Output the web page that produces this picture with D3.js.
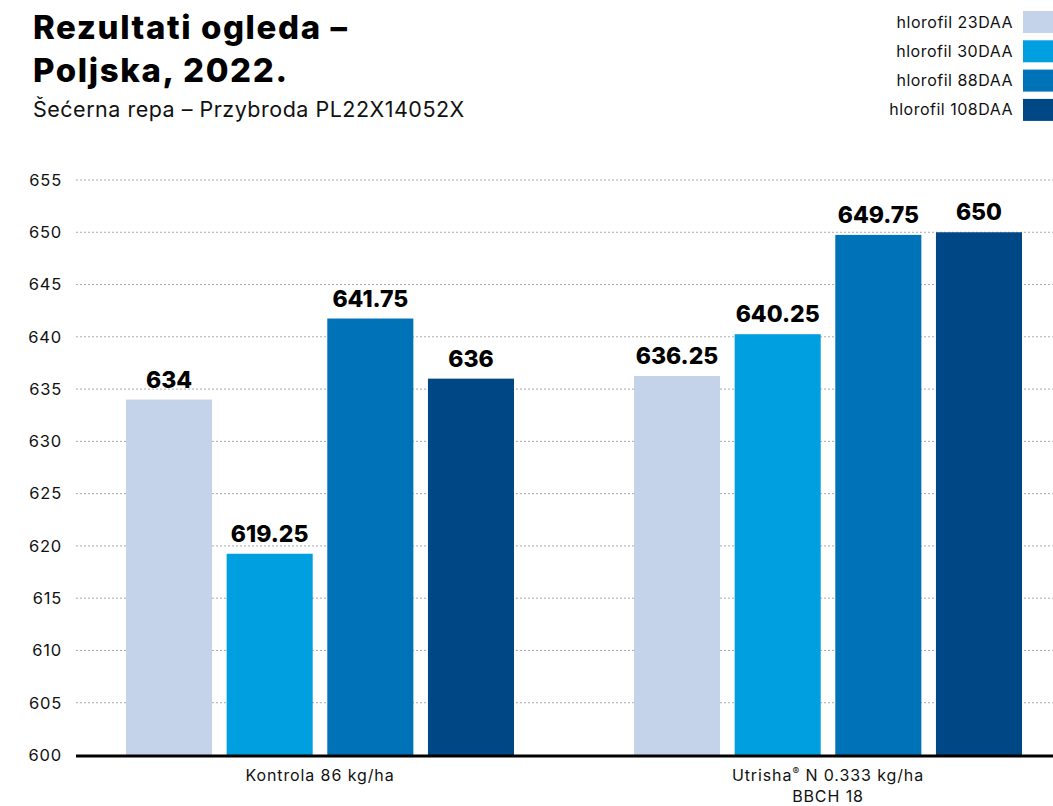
<!DOCTYPE html>
<html><head><meta charset="utf-8">
<script src="https://cdn.jsdelivr.net/npm/d3@7"></script>
<style>body{margin:0;background:#fff;} svg{display:block;font-family:Inter, "Noto Sans", sans-serif;}</style>
</head><body>
<svg id="chart" width="1053" height="806"></svg>
<script>
const categories = ["Kontrola 86 kg/ha", "Utrisha® N 0.333 kg/ha\nBBCH 18"];
const seriesNames = ["hlorofil 23DAA", "hlorofil 30DAA", "hlorofil 88DAA", "hlorofil 108DAA"];
const seriesColors = ["#c4d3ea", "#009fe0", "#0072b8", "#004785"];
const valuesKontrola = [634, 619.25, 641.75, 636];
const valuesUtrisha = [636.25, 640.25, 649.75, 650];
const valueLabels = [["634","619.25","641.75","636"],["636.25","640.25","649.75","650"]];
const yTicks = [600,605,610,615,620,625,630,635,640,645,650,655];

const data = [valuesKontrola, valuesUtrisha];
const svg = d3.select("#chart");

const y = d3.scaleLinear().domain([600, 655]).range([755, 180]);
const x0 = d3.scaleBand().domain(categories).range([66, 1082]);
const x1 = d3.scaleBand().domain(seriesNames).range([60, 448]).paddingInner(0.145).paddingOuter(0);

// grid
svg.append("g").selectAll("line").data(yTicks.filter(t => t > 600)).join("line")
  .attr("x1", 76).attr("x2", 1053)
  .attr("y1", d => y(d)).attr("y2", d => y(d))
  .attr("stroke", "#aaa").attr("stroke-width", 1).attr("stroke-dasharray", "2,2");

// y ticks
svg.append("g").selectAll("text").data(yTicks).join("text")
  .attr("x", 62).attr("y", d => y(d)).attr("dy", "0.35em")
  .attr("text-anchor", "end").attr("font-size", 16.5).attr("letter-spacing", 0.8).attr("fill", "#111")
  .text(d => d);

// bars
const groups = svg.append("g").selectAll("g").data(data).join("g")
  .attr("transform", (d, i) => `translate(${x0(categories[i])},0)`);
groups.selectAll("rect").data(d => d).join("rect")
  .attr("x", (d, j) => x1(seriesNames[j]))
  .attr("width", x1.bandwidth())
  .attr("y", d => y(d)).attr("height", d => y(600) - y(d))
  .attr("fill", (d, j) => seriesColors[j]);
groups.selectAll("text").data((d, i) => d.map((v, j) => ({v, j, i}))).join("text")
  .attr("x", d => x1(seriesNames[d.j]) + x1.bandwidth() / 2)
  .attr("y", d => y(d.v) - 12)
  .attr("text-anchor", "middle").attr("font-size", 23).attr("font-weight", 800).attr("fill", "#000")
  .text(d => valueLabels[d.i][d.j]);

// baseline
svg.append("line").attr("x1", 76).attr("x2", 1053).attr("y1", y(600) + 1).attr("y2", y(600) + 1)
  .attr("stroke", "#000").attr("stroke-width", 3);

// category labels
categories.forEach((c, i) => {
  const cx = x0(c) + 60 + 388 / 2;
  const t = svg.append("text").attr("x", cx).attr("y", 781).attr("text-anchor", "middle")
    .attr("font-size", 16).attr("letter-spacing", 0.9).attr("fill", "#111");
  c.split("\n").forEach((line, k) => {
    const parts = line.split("®");
    const ts = t.append("tspan").attr("x", cx).attr("dy", k === 0 ? 0 : 21);
    ts.text(parts[0]);
    if (parts.length > 1) {
      t.append("tspan").attr("font-size", 10).attr("dy", -6).text("®");
      t.append("tspan").attr("dy", 6).text(parts[1]);
    }
  });
});

// title
svg.append("text").attr("x", 33).attr("y", 39).attr("font-size", 33).attr("font-weight", 800).attr("letter-spacing", 1.6).attr("fill", "#000").text("Rezultati ogleda –");
svg.append("text").attr("x", 33).attr("y", 82).attr("font-size", 33).attr("font-weight", 800).attr("letter-spacing", 1.6).attr("fill", "#000").text("Poljska, 2022.");
svg.append("text").attr("x", 33).attr("y", 117).attr("font-size", 21.5).attr("letter-spacing", 0.5).attr("fill", "#111").text("Šećerna repa – Przybroda PL22X14052X");

// legend
const leg = svg.append("g").selectAll("g").data(seriesNames).join("g")
  .attr("transform", (d, i) => `translate(0,${11 + i * 29.3})`);
leg.append("rect").attr("x", 1023).attr("y", 0).attr("width", 30).attr("height", 22)
  .attr("fill", (d, i) => seriesColors[i]);
leg.append("text").attr("x", 1013).attr("y", 11).attr("dy", "0.35em").attr("text-anchor", "end")
  .attr("font-size", 16).attr("letter-spacing", 0.5).attr("fill", "#111").text(d => d);
</script>
</body></html>
